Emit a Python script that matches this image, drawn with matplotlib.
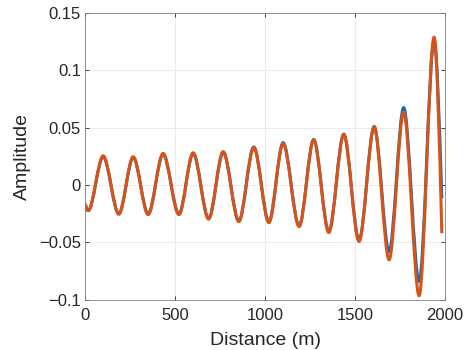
import matplotlib
matplotlib.use("Agg")
import matplotlib.pyplot as plt
from matplotlib.path import Path
from matplotlib.patches import PathPatch
from matplotlib.ticker import FuncFormatter

# extrema (start, alternating troughs/peaks, end)
dist = [0, 17, 100, 187, 267, 350, 433, 521, 600, 686, 767, 854, 937, 1021,
        1100, 1189, 1270, 1354, 1437, 1522, 1606, 1689, 1770, 1856, 1939, 1982]
amp_blue = [-0.0165, -0.0222, 0.0245, -0.0250, 0.0240, -0.0252, 0.0268, -0.0252,
            0.0275, -0.0290, 0.0285, -0.0312, 0.0330, -0.0322, 0.0368, -0.0355,
            0.0395, -0.0405, 0.0442, -0.0480, 0.0508, -0.0578, 0.0673, -0.0838,
            0.1260, -0.0115]
amp_orange = [-0.0165, -0.0223, 0.0254, -0.0254, 0.0245, -0.0257, 0.0274, -0.0257,
              0.0280, -0.0297, 0.0289, -0.0318, 0.0327, -0.0327, 0.0361, -0.0361,
              0.0390, -0.0413, 0.0439, -0.0491, 0.0505, -0.0650, 0.0635, -0.0962,
              0.1285, -0.0419]


def wave_path(x, y):
    # smooth cubic through the points, flat tangent at every interior extremum
    n = len(x)
    slope = [0.0] * n
    slope[0] = 1.5 * (y[1] - y[0]) / (x[1] - x[0])
    slope[-1] = 1.5 * (y[-1] - y[-2]) / (x[-1] - x[-2])
    verts = [(x[0], y[0])]
    codes = [Path.MOVETO]
    for i in range(n - 1):
        d = (x[i + 1] - x[i]) / 3
        verts += [(x[i] + d, y[i] + slope[i] * d),
                  (x[i + 1] - d, y[i + 1] - slope[i + 1] * d),
                  (x[i + 1], y[i + 1])]
        codes += [Path.CURVE4] * 3
    return Path(verts, codes)


plt.rcParams['font.family'] = ['Liberation Sans', 'DejaVu Sans']
fig = plt.figure(figsize=(4.68, 3.5), dpi=100)
ax = fig.add_axes([0.182, 0.143, 0.769, 0.821])

for y, c in [(amp_blue, '#0072BD'), (amp_orange, '#D95319')]:
    ax.add_patch(PathPatch(wave_path(dist, y), facecolor='none', edgecolor=c,
                           lw=2.2, capstyle='butt'))

ax.set_xlim(0, 2000)
ax.set_ylim(-0.1, 0.15)
ax.set_xticks([0, 500, 1000, 1500, 2000])
ax.set_yticks([-0.1, -0.05, 0, 0.05, 0.1, 0.15])
ax.yaxis.set_major_formatter(FuncFormatter(lambda v, p: f"{v:g}".replace('-', '\u2212')))
ax.grid(True, color='#e8e8e8', lw=0.6)
ax.set_axisbelow(True)
ax.tick_params(direction='in', length=3, width=0.6, top=True, right=True,
               labelsize=12, colors='#262626')
ax.tick_params(axis='x', pad=6)
ax.tick_params(axis='y', pad=3)
for s in ax.spines.values():
    s.set_color('#808080')
    s.set_linewidth(0.6)
ax.set_xlabel("Distance (m)", fontsize=14, color='#262626', labelpad=6)
ax.set_ylabel("Amplitude", fontsize=14, color='#262626', labelpad=5.5)

fig.savefig("out.png", dpi=100)
